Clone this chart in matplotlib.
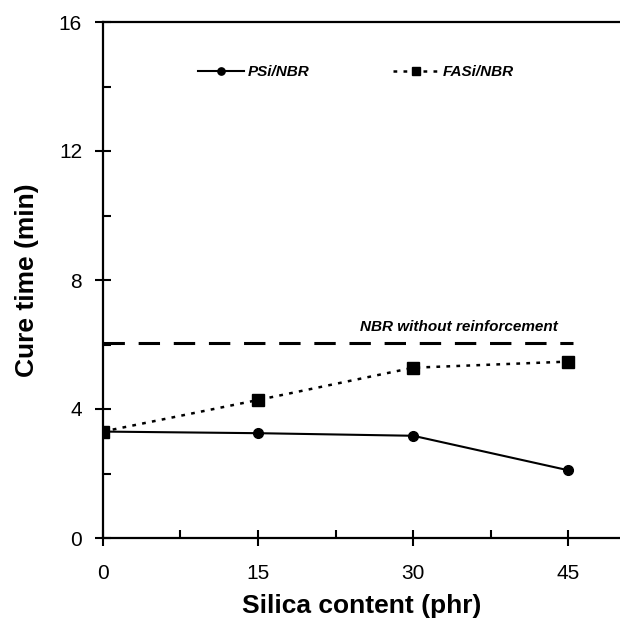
import matplotlib
matplotlib.use("Agg")
from matplotlib import pyplot as plt
from matplotlib.ticker import MultipleLocator

plt.rcParams['font.family'] = ['Liberation Sans', 'DejaVu Sans']

# Dados
silica = [0, 15, 30, 45]
psi_nbr = [3.3, 3.25, 3.17, 2.1]
fasi_nbr = [3.3, 4.28, 5.28, 5.47]
nbr_sem_reforco = 6.06
nbr_x = [0, 45.5]

fig = plt.figure(figsize=(6.2, 6.25), dpi=100)
ax = fig.add_axes([0.166, 0.1392, 0.834, 0.8256])

ax.plot(silica, psi_nbr, color='black', lw=1.5, marker='o', ms=7,
        label='PSi/NBR')
ax.plot(silica, fasi_nbr, color='black', lw=1.8, ls=(0, (1.5, 2.5)),
        marker='s', ms=8.5, label='FASi/NBR')
ax.plot(nbr_x, [nbr_sem_reforco] * 2, color='black', lw=2.2,
        ls=(0, (7, 4.5)))
ax.text(34.4, 6.55, 'NBR without reinforcement', ha='center', va='center',
        fontsize=11, fontweight='bold', style='italic')

ax.set_xlim(0, 50)
ax.set_ylim(0, 16)
ax.set_xticks([0, 15, 30, 45])
ax.set_yticks([0, 4, 8, 12, 16])
ax.xaxis.set_minor_locator(MultipleLocator(7.5))
ax.yaxis.set_minor_locator(MultipleLocator(2))
ax.tick_params(which='major', direction='inout', length=12, width=1.5,
               labelsize=15)
ax.tick_params(which='minor', direction='in', length=6, width=1.5)
ax.tick_params(axis='x', pad=13)
ax.tick_params(axis='y', pad=9)
for lado in ['left', 'bottom', 'top']:
    ax.spines[lado].set_linewidth(1.6)
ax.spines['right'].set_visible(False)

ax.set_xlabel('Silica content (phr)', fontsize=19, fontweight='bold',
              labelpad=8)
ax.set_ylabel('Cure time (min)', fontsize=19, fontweight='bold', labelpad=14)

leg = ax.legend(loc='center left', bbox_to_anchor=(0.184, 0.903), ncol=2,
                frameon=False, handlelength=3.0, handletextpad=0.25,
                columnspacing=5.5, borderpad=0, borderaxespad=0,
                markerscale=0.75,
                prop={'size': 11, 'weight': 'bold', 'style': 'italic'})

fig.savefig('out.png', dpi=100)
